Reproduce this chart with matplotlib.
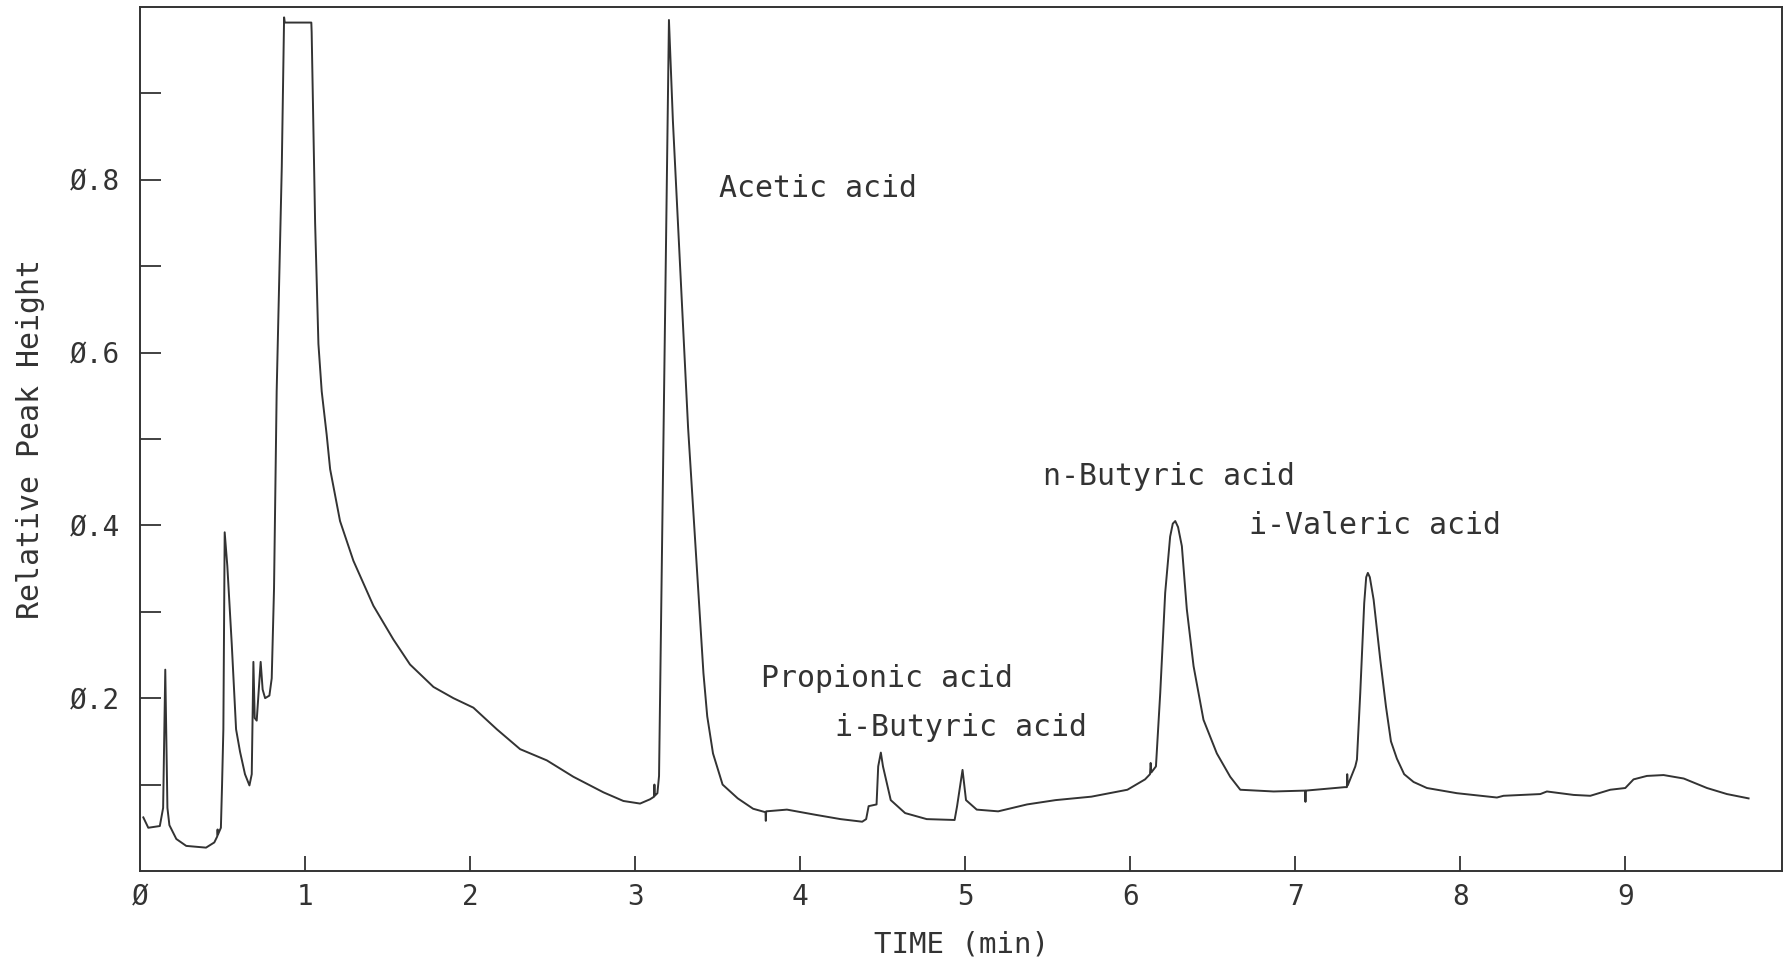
import matplotlib
matplotlib.use("Agg")
import matplotlib.pyplot as plt

# Chromatogram trace (time in min, relative peak height)
time_min = [
    0.02, 0.05, 0.12, 0.14, 0.153, 0.166, 0.178, 0.22, 0.28, 0.40, 0.45, 0.468, 0.470, 0.472,
    0.49, 0.497, 0.505, 0.513, 0.529, 0.556, 0.582, 0.606, 0.636, 0.663, 0.677, 0.687, 0.695,
    0.707, 0.717, 0.731, 0.743, 0.758, 0.784, 0.798, 0.812, 0.828, 0.859, 0.873, 0.877, 1.038,
    1.040, 1.061, 1.081, 1.101, 1.131, 1.152, 1.212, 1.293, 1.414, 1.535, 1.636, 1.778, 1.899,
    2.02, 2.162, 2.303, 2.465, 2.626, 2.808, 2.929, 3.03, 3.091, 3.115, 3.117, 3.119, 3.135,
    3.145, 3.205, 3.229, 3.321, 3.414, 3.437, 3.472, 3.53, 3.622, 3.715, 3.79, 3.792, 3.794,
    3.92, 4.093, 4.245, 4.376, 4.40, 4.415, 4.463, 4.473, 4.489, 4.502, 4.549, 4.636, 4.767,
    4.936, 4.951, 4.984, 5.005, 5.07, 5.2, 5.375, 5.548, 5.765, 5.983, 6.09, 6.12, 6.124,
    6.128, 6.156, 6.182, 6.212, 6.242, 6.258, 6.273, 6.29, 6.313, 6.343, 6.384, 6.444, 6.525,
    6.606, 6.667, 6.869, 7.06, 7.062, 7.064, 7.30, 7.313, 7.315, 7.318, 7.364, 7.374, 7.394,
    7.418, 7.43, 7.44, 7.452, 7.475, 7.515, 7.55, 7.58, 7.616, 7.66, 7.717, 7.798, 7.98, 8.222,
    8.262, 8.485, 8.525, 8.687, 8.788, 8.909, 9.0, 9.05, 9.131, 9.232, 9.354, 9.495, 9.616,
    9.747,
]
rel_height = [
    0.062, 0.050, 0.052, 0.073, 0.233, 0.073, 0.053, 0.037, 0.029, 0.027, 0.033, 0.040, 0.048, 0.042,
    0.050, 0.099, 0.164, 0.392, 0.353, 0.262, 0.164, 0.138, 0.112, 0.099, 0.112, 0.242, 0.177,
    0.174, 0.203, 0.242, 0.210, 0.200, 0.203, 0.223, 0.327, 0.555, 0.815, 0.988, 0.982, 0.982,
    0.971, 0.750, 0.610, 0.555, 0.505, 0.465, 0.405, 0.359, 0.307, 0.268, 0.239, 0.213, 0.200,
    0.189, 0.164, 0.141, 0.128, 0.109, 0.091, 0.081, 0.078, 0.083, 0.086, 0.100, 0.087, 0.090,
    0.110, 0.985, 0.868, 0.513, 0.229, 0.179, 0.136, 0.100, 0.084, 0.072, 0.068, 0.058, 0.069,
    0.071, 0.065, 0.060, 0.057, 0.060, 0.075, 0.077, 0.121, 0.137, 0.121, 0.082, 0.067, 0.060,
    0.059, 0.075, 0.117, 0.082, 0.071, 0.069, 0.077, 0.082, 0.086, 0.094, 0.106, 0.112, 0.125,
    0.114, 0.121, 0.206, 0.322, 0.387, 0.402, 0.405, 0.398, 0.376, 0.303, 0.237, 0.175, 0.136,
    0.109, 0.094, 0.092, 0.093, 0.080, 0.093, 0.097, 0.097, 0.112, 0.099, 0.121, 0.129, 0.206,
    0.310, 0.340, 0.345, 0.340, 0.314, 0.245, 0.190, 0.150, 0.130, 0.112, 0.103, 0.096, 0.090, 0.085,
    0.087, 0.089, 0.092, 0.088, 0.087, 0.094, 0.096, 0.106, 0.110, 0.111, 0.107, 0.096, 0.089,
    0.084,
]

# Peak annotations
peak_names = ["Acetic acid", "Propionic acid", "i-Butyric acid", "n-Butyric acid", "i-Valeric acid"]
label_x = [3.51, 3.76, 4.21, 5.47, 6.72]
label_y = [0.79, 0.223, 0.166, 0.456, 0.40]

# Axis ticks
x_ticks = [0, 1, 2, 3, 4, 5, 6, 7, 8, 9]
x_tick_labels = ["Ø", "1", "2", "3", "4", "5", "6", "7", "8", "9"]
y_ticks = [0.2, 0.4, 0.6, 0.8]
y_tick_labels = ["Ø.2", "Ø.4", "Ø.6", "Ø.8"]
y_minor = [0.1, 0.3, 0.5, 0.7, 0.9]

ink = "#333333"
plt.rcParams["font.family"] = ["DejaVu Sans Mono"]

fig = plt.figure(figsize=(17.86, 9.61), dpi=100)
ax = fig.add_axes([0.0784, 0.0937, 0.9194, 0.899])

ax.plot(time_min, rel_height, color=ink, lw=1.4)

for name, lx, ly in zip(peak_names, label_x, label_y):
    ax.text(lx, ly, name, fontsize=21.5, color=ink, va="center", ha="left")

ax.set_xlim(0, 9.95)
ax.set_ylim(0, 1.0)

ax.set_xticks(x_ticks)
ax.set_xticklabels(x_tick_labels)
ax.set_yticks(y_ticks)
ax.set_yticklabels(y_tick_labels)
ax.set_yticks(y_minor, minor=True)

ax.tick_params(axis="both", which="both", direction="in", color=ink, width=1.3,
               labelcolor=ink, labelsize=20)
ax.tick_params(axis="x", length=11, pad=9)
ax.tick_params(axis="y", which="both", length=15, pad=14)
ax.xaxis.get_major_ticks()[0].tick1line.set_visible(False)

for sp in ax.spines.values():
    sp.set_color(ink)
    sp.set_linewidth(1.4)

ax.set_xlabel("TIME (min)", fontsize=21, color=ink, labelpad=14)
ax.set_ylabel("Relative Peak Height", fontsize=21.5, color=ink, labelpad=18)

fig.savefig("out.png", dpi=100)
